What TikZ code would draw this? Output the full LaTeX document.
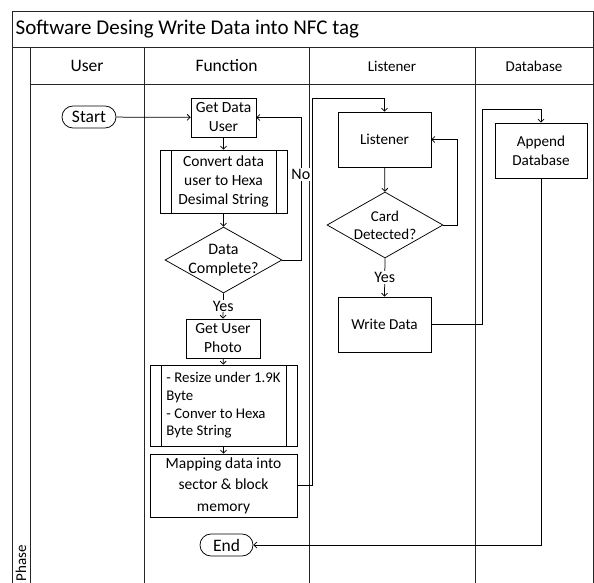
\documentclass[tikz,border=0pt]{standalone}
\usepackage{fontspec}
\setmainfont{Carlito}
\usetikzlibrary{arrows.meta,shapes.geometric}
\begin{document}
\begin{tikzpicture}[x=1pt,y=-1pt,
  frame/.style={draw=black!85, line width=0.9pt},
  fbox/.style={draw, line width=0.75pt, align=center, inner sep=0pt, font=\fontsize{15.5}{19}\selectfont},
  lbox/.style={draw, line width=0.75pt, align=center, inner sep=0pt, font=\fontsize{15.2}{19}\selectfont},
  term/.style={draw, line width=0.75pt, rounded corners=11pt, inner sep=0pt, minimum height=22pt, font=\fontsize{17.5}{19}\selectfont},
  dec/.style={draw, diamond, aspect=1.77, inner sep=-6pt, line width=0.75pt, align=center},
  subproc/.style={fbox, path picture={\draw[line width=0.75pt] ([xshift=11pt]path picture bounding box.north west) -- ([xshift=11pt]path picture bounding box.south west) ([xshift=-11pt]path picture bounding box.north east) -- ([xshift=-11pt]path picture bounding box.south east);}},
  arr/.style={line width=0.75pt, -{Straight Barb[length=3pt,width=6pt]}},
  lbl/.style={fill=white, inner sep=1pt, font=\fontsize{16}{17}\selectfont},
  head/.style={font=\fontsize{17.5}{19}\selectfont},
  heads/.style={font=\fontsize{15}{17}\selectfont}
]
\useasboundingbox (0,0) rectangle (594,583);
\clip (0,0) rectangle (594,583);
% frame
\draw[frame] (12,11) rectangle (593.5,47);
\draw[frame] (12,47) -- (12,590);
\draw[frame] (593.5,47) -- (593.5,590);
\draw[frame] (30,84) -- (593.5,84);
\draw[frame] (30,47) -- (30,590);
\draw[frame] (144,47) -- (144,590);
\draw[frame] (309,47) -- (309,590);
\draw[frame] (475,47) -- (475,590);
\node[anchor=west, font=\fontsize{21}{24}\selectfont, inner sep=0pt] (title) at (15.5,29) {Software Desing Write Data into NFC tag};
\node[head] (hUser) at (87,65.5) {User};
\node[head] (hFunc) at (226.5,65.5) {Function};
\node[heads] (hList) at (392,66) {Listener};
\node[heads] (hDb) at (534,66) {Database};
\node[font=\fontsize{15}{17}\selectfont, rotate=90, inner sep=0pt] (phase) at (21,563) {Phase};
% function column
\node[term, minimum width=54pt] (start) at (89,117) {Start};
\node[fbox, minimum width=65pt, minimum height=39pt] (getdata) at (223.5,117.5) {Get Data\\User};
\node[subproc, minimum width=127pt, minimum height=63pt] (convert) at (223.5,181.5) {Convert data\\user to Hexa\\Desimal String};
\node[dec, font=\fontsize{16}{19}\selectfont, minimum width=117pt, minimum height=66pt] (datacomp) at (223.5,260) {Data\\Complete?};
\node[fbox, minimum width=74pt, minimum height=39pt] (photo) at (223,338.5) {Get User\\Photo};
\node[subproc, minimum width=147pt, minimum height=81pt, align=left, font=\fontsize{14.8}{17.7}\selectfont] (resize) at (223.5,405.5) {- Resize under 1.9K\\Byte\\- Conver to Hexa\\Byte String};
\node[fbox, minimum width=147pt, minimum height=63pt, font=\fontsize{15.5}{21.5}\selectfont] (mapping) at (223.5,485.5) {Mapping data into\\sector \& block\\memory};
\node[term, minimum width=53pt] (end) at (226.5,545) {End};
% listener column
\node[lbox, minimum width=93pt, minimum height=55pt] (listener) at (384.5,139.5) {Listener};
\node[dec, font=\fontsize{15}{18}\selectfont, minimum width=116pt, minimum height=66pt] (card) at (385,225) {Card\\Detected?};
\node[lbox, minimum width=93pt, minimum height=55pt] (write) at (384.5,324.5) {Write Data};
% database column
\node[lbox, minimum width=92pt, minimum height=55pt] (append) at (541,150.5) {Append\\Database};
% connectors
\coordinate (m1) at (312,98);
\coordinate (w1) at (482,109);
\draw[arr] (start) -- (getdata);
\draw[arr] (getdata) -- (convert);
\draw[arr] (convert) -- (datacomp);
\draw[arr] (datacomp.east) -- ++(18.5,0) -- node[lbl, pos=0.6] (no) {No} ++(0,-142.5) -- (getdata.east);
\draw[arr] (datacomp.south) -- node[lbl] (yes1) {Yes} (photo.north);
\draw[arr] (photo) -- (resize);
\draw[arr] (resize) -- (mapping);
\draw[arr] (mapping.east) -| (m1) -| (listener.north);
\draw[arr] (listener) -- (card);
\draw[arr] (card.east) -- ++(14,0) |- (listener.east);
\draw[arr] (card.south) -- node[lbl] (yes2) {Yes} (write.north);
\draw[arr] (write.east) -| (w1) -| (append.north);
\draw[arr] (append.south) |- (end.east);
\end{tikzpicture}
\end{document}
